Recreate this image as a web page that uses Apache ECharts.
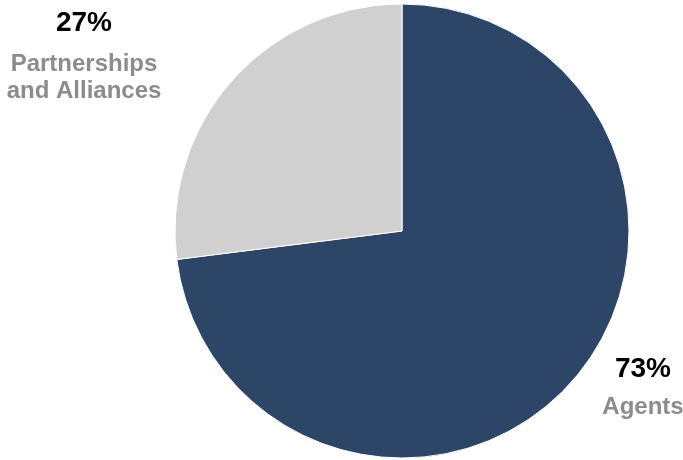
<!DOCTYPE html>
<html>
<head>
<meta charset="utf-8">
<script src="https://cdn.jsdelivr.net/npm/echarts@6/dist/echarts.min.js"></script>
<style>
html,body{margin:0;padding:0;background:#fff;}
#chart{width:683px;height:460px;}
</style>
</head>
<body>
<div id="chart"></div>
<script>
var categories = ['Agents', 'Partnerships\nand Alliances'];
var values = [73, 27];
var colors = ['#2d4567', '#d0d0d0'];

var labelPos = [
  { x: 643, y: 344, pLine: 50 },
  { x: 84, y: -5, pLine: 56 }
];

var chart = echarts.init(document.getElementById('chart'));
chart.setOption({
  animation: false,
  series: [{
    type: 'pie',
    center: [402, 231],
    radius: 227,
    startAngle: 90,
    clockwise: true,
    itemStyle: { borderColor: '#ffffff', borderWidth: 1 },
    labelLine: { show: false },
    data: categories.map(function (c, i) {
      return {
        name: c,
        value: values[i],
        itemStyle: { color: colors[i] },
        label: {
          rich: {
            p: { fontFamily: 'Liberation Sans', fontWeight: 'bold', fontSize: 28, color: '#000', lineHeight: labelPos[i].pLine, align: 'center' },
            n: { fontFamily: 'Liberation Sans', fontWeight: 'bold', fontSize: 24, color: '#8c8c8c', lineHeight: 27, align: 'center' }
          }
        }
      };
    }),
    label: {
      show: true,
      position: 'outside',
      overflow: 'none',
      formatter: function (p) {
        return '{p|' + p.value + '%}\n{n|' + p.name + '}';
      }
    },
    labelLayout: function (params) {
      var lp = labelPos[params.dataIndex];
      return { x: lp.x, y: lp.y, align: 'center', verticalAlign: 'top' };
    }
  }]
});
</script>
</body>
</html>
